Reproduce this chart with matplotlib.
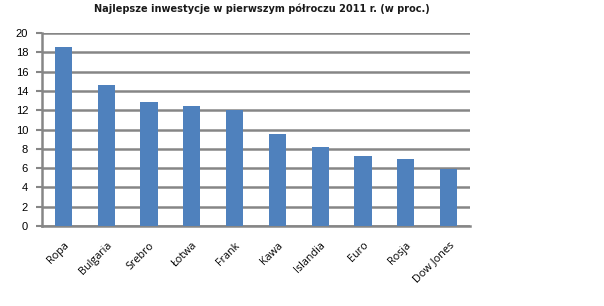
import matplotlib
matplotlib.use("Agg")
import matplotlib.pyplot as plt

categories = ["Ropa", "Bulgaria", "Srebro", "Łotwa", "Frank", "Kawa", "Islandia", "Euro", "Rosja", "Dow Jones"]
values = [18.5, 14.6, 12.85, 12.4, 12.0, 9.5, 8.2, 7.25, 6.95, 5.9]
yticks = [0, 2, 4, 6, 8, 10, 12, 14, 16, 18, 20]
title = "Najlepsze inwestycje w pierwszym półroczu 2011 r. (w proc.)"

W, H = 604, 306
fig = plt.figure(figsize=(W / 100, H / 100), dpi=100)
ax = fig.add_axes([42 / W, (H - 226) / H, 428 / W, (226 - 33) / H])

x = range(len(categories))
ax.bar(x, values, width=0.4, color="#4F81BD", zorder=3)
ax.set_xlim(-0.5, len(categories) - 0.5)
ax.set_ylim(0, 20)
ax.set_yticks(yticks)
ax.set_yticklabels([str(t) for t in yticks], fontsize=8, family="Liberation Sans")
ax.set_xticks(list(x))
ax.set_xticklabels(categories, rotation=45, ha="right", rotation_mode="anchor",
                   fontsize=7.8, family="Open Sans")
ax.tick_params(axis="x", length=0, pad=10)
ax.tick_params(axis="y", length=4, width=1.5, color="#868686", pad=6)
ax.yaxis.grid(True, color="#868686", linewidth=1.8, zorder=0)
for s in ["top", "right"]:
    ax.spines[s].set_visible(False)
ax.spines["left"].set_color("#868686")
ax.spines["left"].set_linewidth(1.8)
ax.spines["bottom"].set_color("#868686")
ax.spines["bottom"].set_linewidth(1.8)

fig.text(262 / W, 1 - 9 / H, title, ha="center", va="center", fontsize=7.8,
         fontweight="bold", family="DejaVu Sans", fontstretch="condensed",
         color="#1a1a1a")
fig.savefig("out.png", dpi=100)
